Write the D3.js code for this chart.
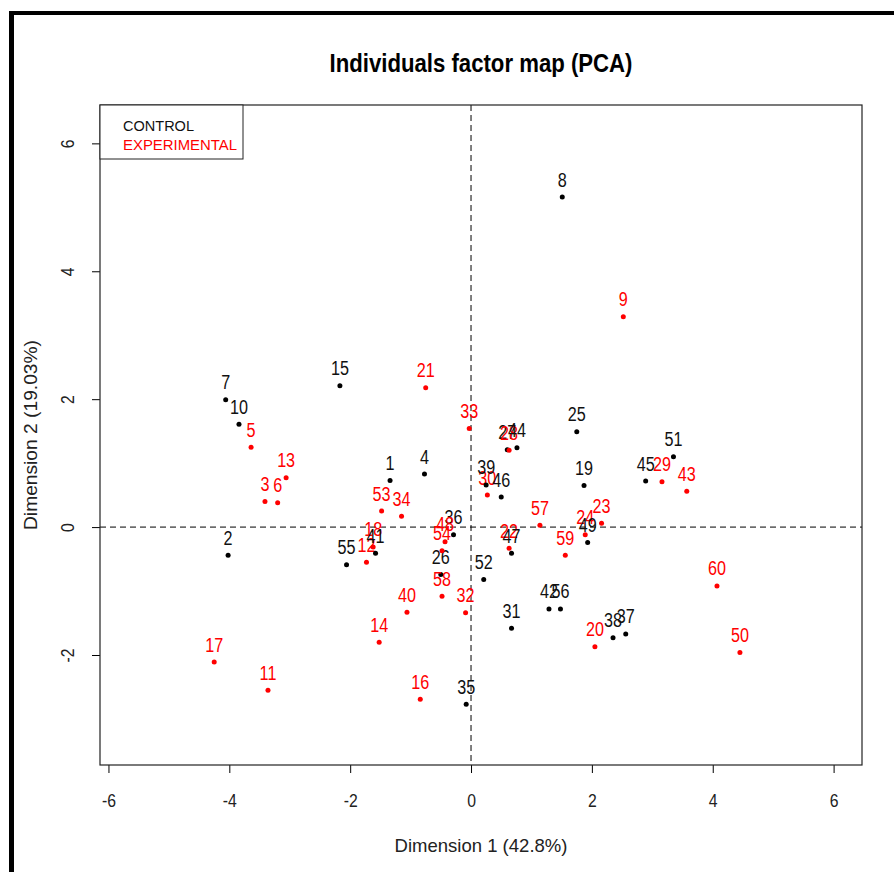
<!DOCTYPE html>
<html>
<head>
<meta charset="utf-8">
<script src="https://cdn.jsdelivr.net/npm/d3@7"></script>
<style>
  html, body { margin: 0; padding: 0; background: #fff; }
  svg { display: block; font-family: "Liberation Sans", Arial, sans-serif; }
</style>
</head>
<body>
<svg id="chart" width="894" height="872"></svg>
<script>
// Individuals on the first two principal components
const ids   = [1,2,3,4,5,6,7,8,9,10,11,12,13,14,15,16,17,18,19,20,21,22,23,24,25,26,27,28,29,30,
               31,32,33,34,35,36,37,38,39,40,41,42,43,44,45,46,47,48,49,50,51,52,53,54,55,56,57,58,59,60];
const groups = ["C","C","E","C","E","E","C","C","E","C","E","E","E","E","C","E","E","E","C","E",
                "E","E","E","E","C","C","C","E","E","E","C","E","E","E","C","C","C","C","C","E",
                "C","C","E","C","C","C","C","E","C","E","C","C","E","E","C","C","E","E","E","E"];
const dim1 = [-1.34,-4.02,-3.41,-0.77,-3.64,-3.20,-4.06,1.51,2.52,-3.84,-3.36,-1.73,-3.06,-1.52,-2.17,
              -0.84,-4.25,-1.62,1.87,2.05,-0.75,0.63,2.16,1.89,1.75,-0.50,0.60,0.63,3.16,0.27,
              0.67,-0.09,-0.03,-1.15,-0.08,-0.29,2.56,2.35,0.25,-1.06,-1.58,1.29,3.57,0.76,2.89,
              0.50,0.67,-0.43,1.93,4.45,3.35,0.21,-1.48,-0.48,-2.06,1.48,1.14,-0.48,1.56,4.07];
const dim2 = [0.73,-0.44,0.40,0.83,1.25,0.38,1.99,5.16,3.29,1.61,-2.55,-0.55,0.77,-1.80,2.21,
              -2.69,-2.11,-0.31,0.65,-1.87,2.18,-0.33,0.06,-0.12,1.49,-0.74,1.21,1.20,0.71,0.50,
              -1.58,-1.34,1.54,0.17,-2.77,-0.12,-1.67,-1.73,0.66,-1.33,-0.41,-1.28,0.56,1.24,0.72,
              0.47,-0.41,-0.23,-0.24,-1.96,1.10,-0.82,0.25,-0.37,-0.59,-1.28,0.03,-1.08,-0.44,-0.92];

const groupNames = {C: "CONTROL", E: "EXPERIMENTAL"};
const groupColors = {C: "#000000", E: "#ff0000"};
const xTicks = [-6,-4,-2,0,2,4,6];
const yTicks = [-2,0,2,4,6];
const titleText = "Individuals factor map (PCA)";
const xTitle = "Dimension 1 (42.8%)";
const yTitle = "Dimension 2 (19.03%)";

const rows = ids.map((id, i) => ({id, group: groups[i], x: dim1[i], y: dim2[i]}));

const svg = d3.select("#chart");
const plot = {left: 100, right: 862, top: 105, bottom: 765};

const x = d3.scaleLinear().domain([-6.14, 6.47]).range([plot.left, plot.right]);
const y = d3.scaleLinear().domain([-3.72, 6.60]).range([plot.bottom, plot.top]);

// outer frame strokes
svg.append("rect").attr("x", 9).attr("y", 11).attr("width", 885).attr("height", 4).attr("fill", "#000");
svg.append("rect").attr("x", 9).attr("y", 11).attr("width", 5).attr("height", 861).attr("fill", "#000");

// title
svg.append("text")
  .attr("x", (plot.left + plot.right) / 2).attr("y", 72)
  .attr("text-anchor", "middle")
  .attr("font-size", 26).attr("font-weight", "bold")
  .attr("textLength", 303).attr("lengthAdjust", "spacingAndGlyphs")
  .text(titleText);

const fmt = d => d3.format("d")(d).replace("−", "-");

// axes
const xAxis = d3.axisBottom(x).tickValues(xTicks).tickSize(8).tickPadding(0);
const gx = svg.append("g").attr("transform", `translate(0,${plot.bottom})`).call(xAxis);
gx.select(".domain").remove();
gx.selectAll(".tick line").attr("stroke", "#000");
gx.selectAll(".tick text").remove();
gx.selectAll(".tick").append("text")
  .attr("transform", "translate(0,42) scale(0.83,1)")
  .attr("text-anchor", "middle").attr("fill", "#222").attr("font-size", 19)
  .text(fmt);

const yAxis = d3.axisLeft(y).tickValues(yTicks).tickSize(8).tickPadding(0);
const gy = svg.append("g").attr("transform", `translate(${plot.left},0)`).call(yAxis);
gy.select(".domain").remove();
gy.selectAll(".tick line").attr("stroke", "#000");
gy.selectAll(".tick text").remove();
gy.selectAll(".tick").append("text")
  .attr("transform", "translate(-26,0) rotate(-90) scale(0.83,1)")
  .attr("text-anchor", "middle").attr("fill", "#222").attr("font-size", 19)
  .text(fmt);

// axis titles
svg.append("text")
  .attr("x", (plot.left + plot.right) / 2).attr("y", 852)
  .attr("text-anchor", "middle").attr("fill", "#222").attr("font-size", 19)
  .attr("textLength", 173).attr("lengthAdjust", "spacingAndGlyphs")
  .text(xTitle);
svg.append("text")
  .attr("transform", `translate(37,${(plot.top + plot.bottom) / 2}) rotate(-90)`)
  .attr("text-anchor", "middle").attr("fill", "#222").attr("font-size", 19)
  .attr("textLength", 190).attr("lengthAdjust", "spacingAndGlyphs")
  .text(yTitle);

// reference lines through the origin
svg.append("line")
  .attr("x1", x(0)).attr("x2", x(0)).attr("y1", plot.top).attr("y2", plot.bottom)
  .attr("stroke", "#000").attr("stroke-dasharray", "6,4");
svg.append("line")
  .attr("x1", plot.left).attr("x2", plot.right).attr("y1", y(0)).attr("y2", y(0))
  .attr("stroke", "#000").attr("stroke-dasharray", "6,4");

// points and labels, drawn in individual order
const pts = svg.append("g");
rows.forEach(d => {
  pts.append("circle")
    .attr("cx", x(d.x)).attr("cy", y(d.y)).attr("r", 2.5)
    .attr("fill", groupColors[d.group]);
  pts.append("text")
    .attr("transform", `translate(${x(d.x)},${y(d.y) - 10.5}) scale(0.83,1)`)
    .attr("text-anchor", "middle").attr("font-size", 19.5)
    .attr("fill", d.group === "C" ? "#111" : groupColors.E)
    .text(d.id);
});

// plot box
svg.append("rect")
  .attr("x", plot.left).attr("y", plot.top)
  .attr("width", plot.right - plot.left).attr("height", plot.bottom - plot.top)
  .attr("fill", "none").attr("stroke", "#222").attr("stroke-width", 1.2);

// legend
const legend = svg.append("g");
legend.append("rect")
  .attr("x", plot.left).attr("y", plot.top)
  .attr("width", 143).attr("height", 54)
  .attr("fill", "#fff").attr("stroke", "#222").attr("stroke-width", 1);
["C", "E"].forEach((g, i) => {
  legend.append("text")
    .attr("x", 123).attr("y", 131 + i * 18.5)
    .attr("font-size", 15).attr("fill", g === "C" ? "#111" : groupColors[g])
    .attr("textLength", g === "C" ? 71 : 114).attr("lengthAdjust", "spacingAndGlyphs")
    .text(groupNames[g]);
});
</script>
</body>
</html>
